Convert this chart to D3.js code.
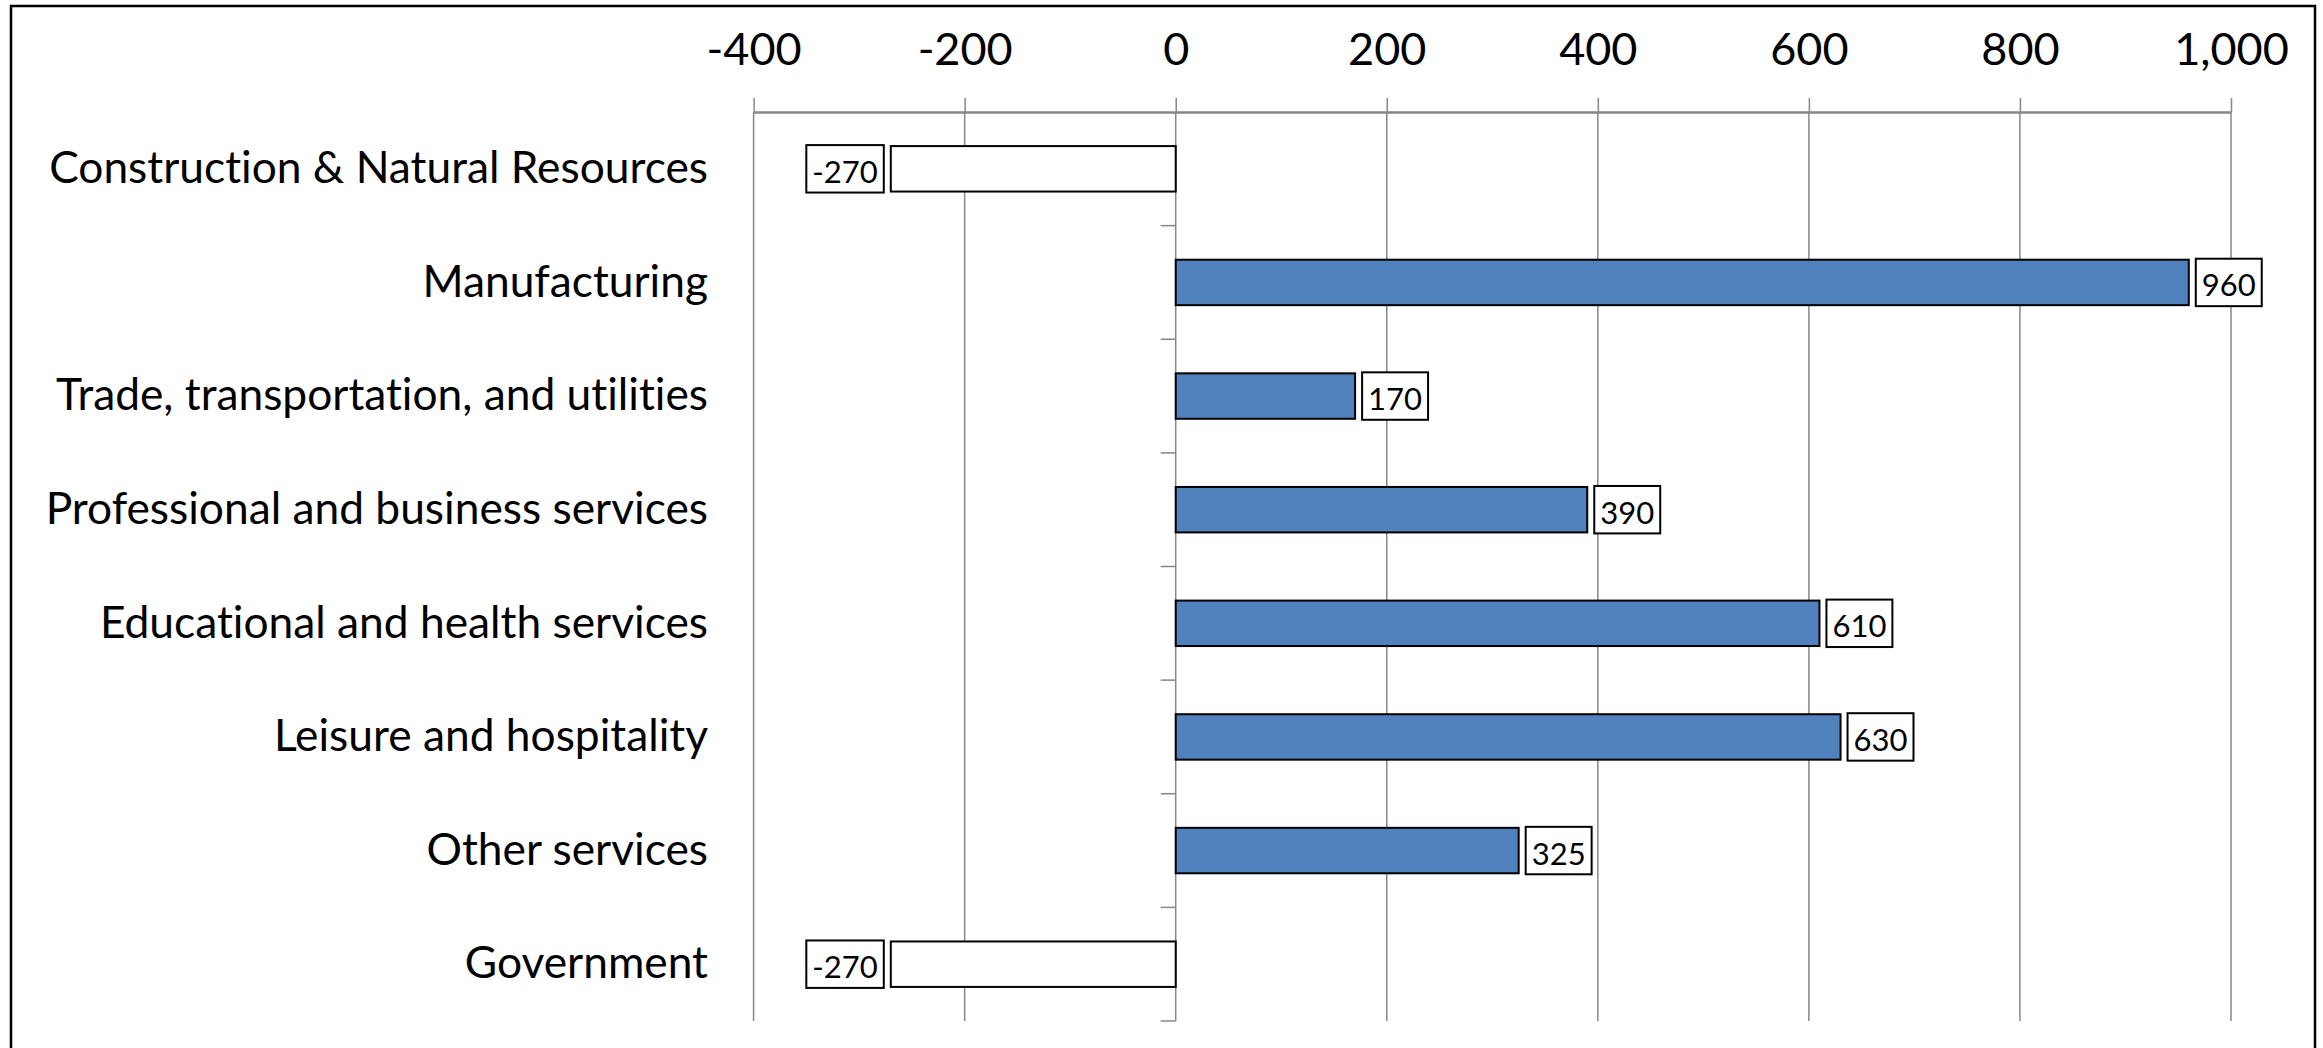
<!DOCTYPE html>
<html>
<head>
<meta charset="utf-8">
<script src="https://cdn.jsdelivr.net/npm/d3@7"></script>
<style>
  html, body { margin: 0; padding: 0; background: #fff; }
  svg { display: block; }
  text { font-family: Lato, "Open Sans", sans-serif; fill: #000; font-variant-ligatures: none; font-feature-settings: "liga" 0, "clig" 0; }
</style>
</head>
<body>
<svg id="chart" width="2323" height="1048"></svg>
<script>
const categories = [
  "Construction & Natural Resources",
  "Manufacturing",
  "Trade, transportation, and utilities",
  "Professional and business services",
  "Educational and health services",
  "Leisure and hospitality",
  "Other services",
  "Government"
];
const values = [-270, 960, 170, 390, 610, 630, 325, -270];
const tickValues = [-400, -200, 0, 200, 400, 600, 800, 1000];
const tickLabels = ["-400", "-200", "0", "200", "400", "600", "800", "1,000"];

const svg = d3.select("#chart");
const W = 2323, H = 1048;
const plot = { left: 753.6, right: 2231, top: 112, bottom: 1021 };
const catLabelX = 708;

// frame
svg.append("rect")
  .attr("x", 11).attr("y", 6)
  .attr("width", 2304).attr("height", H + 20)
  .attr("fill", "none").attr("stroke", "#000").attr("stroke-width", 2.5);

const x = d3.scaleLinear().domain([tickValues[0], tickValues[tickValues.length - 1]])
  .range([plot.left, plot.right]);
const y = d3.scaleBand().domain(categories).range([plot.top, plot.bottom]).padding(0);

const gridColor = "#878787";

// gridlines
svg.append("g").selectAll("line").data(tickValues).join("line")
  .attr("x1", d => x(d)).attr("x2", d => x(d))
  .attr("y1", plot.top).attr("y2", plot.bottom)
  .attr("stroke", gridColor).attr("stroke-width", 1.5);

// value axis on top
const xAxis = d3.axisTop(x)
  .tickValues(tickValues)
  .tickFormat((d, i) => tickLabels[i])
  .tickSize(14)
  .tickSizeOuter(0)
  .tickPadding(33);
const gx = svg.append("g").attr("transform", `translate(0,${plot.top})`).call(xAxis);
gx.select(".domain").attr("stroke", gridColor).attr("stroke-width", 2.5);
gx.selectAll(".tick line").attr("stroke", gridColor).attr("stroke-width", 1.5);
gx.selectAll(".tick text")
  .attr("font-size", 45)
  .attr("font-family", "Lato, sans-serif")
  .attr("fill", "#000");

// category tick marks on zero line
const catTicks = categories.map(c => y(c) + y.bandwidth());
svg.append("g").selectAll("line").data(catTicks).join("line")
  .attr("x1", x(0) - 15).attr("x2", x(0))
  .attr("y1", d => d).attr("y2", d => d)
  .attr("stroke", gridColor).attr("stroke-width", 1.5);

// category labels
const yAxis = d3.axisLeft(y).tickSize(0).tickPadding(0);
const gy = svg.append("g").attr("transform", `translate(${catLabelX},0)`).call(yAxis);
gy.select(".domain").remove();
gy.selectAll(".tick text")
  .attr("font-size", 44.3)
  .attr("font-family", "Lato, sans-serif")
  .attr("fill", "#000");

// bars
const barH = y.bandwidth() * 0.4;
const bars = svg.append("g");
bars.selectAll("rect").data(values).join("rect")
  .attr("x", d => x(Math.min(0, d)))
  .attr("width", d => Math.abs(x(d) - x(0)))
  .attr("y", (d, i) => y(categories[i]) + (y.bandwidth() - barH) / 2)
  .attr("height", barH)
  .attr("fill", d => d < 0 ? "#ffffff" : "#4F81BD")
  .attr("stroke", "#000")
  .attr("stroke-width", 2);

// data labels
const labels = svg.append("g");
values.forEach((v, i) => {
  const g = labels.append("g");
  const cy = y(categories[i]) + y.bandwidth() / 2;
  const t = g.append("text")
    .attr("font-size", 31)
    .attr("dominant-baseline", "central")
    .attr("text-anchor", "middle")
    .text(String(v));
  const tw = t.node().getComputedTextLength();
  const bw = tw + 12, bh = barH + 2;
  const gap = 7;
  const bx = v < 0 ? x(v) - gap - bw : x(v) + gap;
  g.insert("rect", "text")
    .attr("x", bx).attr("y", cy - bh / 2)
    .attr("width", bw).attr("height", bh)
    .attr("fill", "#fff").attr("stroke", "#000").attr("stroke-width", 2);
  t.attr("x", bx + bw / 2).attr("y", cy + 2);
});
</script>
</body>
</html>
